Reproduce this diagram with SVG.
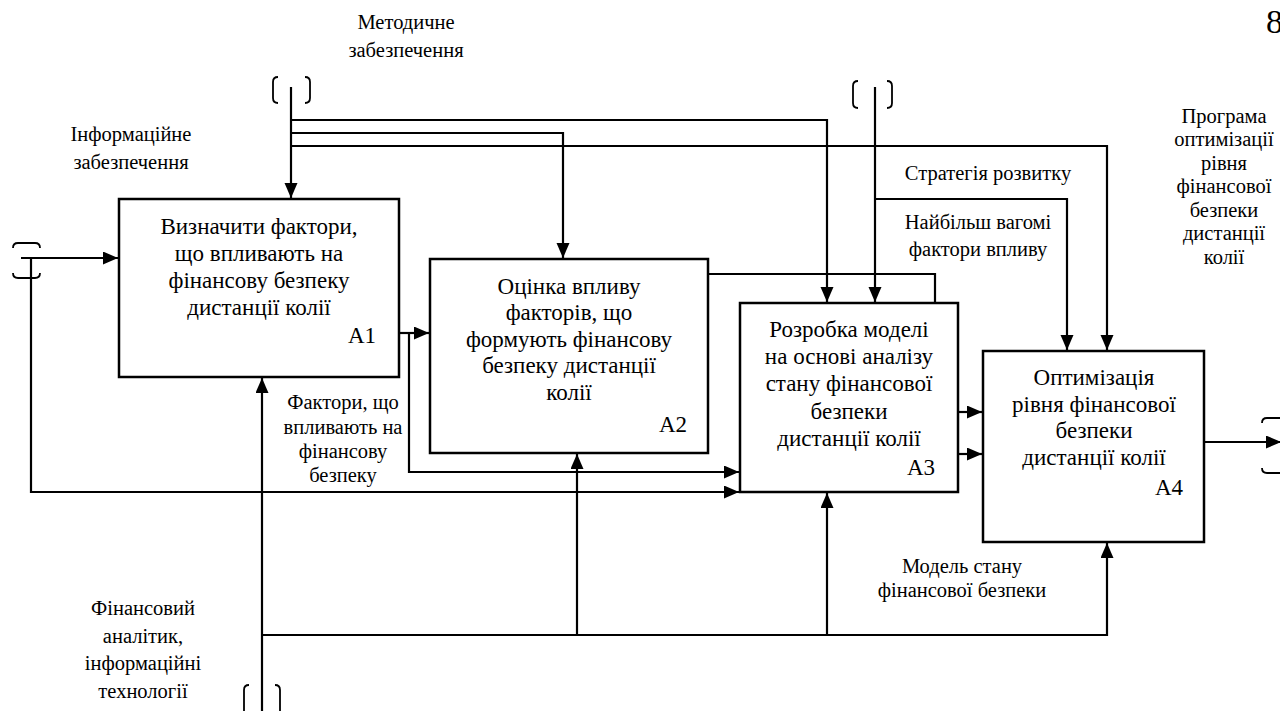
<svg xmlns="http://www.w3.org/2000/svg" width="1280" height="711" viewBox="0 0 1280 711">
<defs>
<style>
.box{fill:#fff;stroke:#000;stroke-width:2.5}
.ln{fill:none;stroke:#000;stroke-width:2.2}
.tn{fill:none;stroke:#000;stroke-width:1.8}
.bt{font-family:"Liberation Serif","Times New Roman",serif;font-size:23px;fill:#000;text-anchor:middle}
.id{font-family:"Liberation Serif","Times New Roman",serif;font-size:23px;fill:#000;text-anchor:end}
.lb{font-family:"Liberation Serif","Times New Roman",serif;font-size:20.5px;fill:#000;text-anchor:middle}
</style>
<marker id="ar" markerUnits="userSpaceOnUse" markerWidth="16" markerHeight="14" refX="15" refY="6.5" orient="auto">
<path d="M0,0 L15,6.5 L0,13 z" fill="#000"/>
</marker>
</defs>
<rect width="1280" height="711" fill="#fff"/>

<g id="connectors">
<path class="ln" d="M291 87 V198" marker-end="url(#ar)"/>
<path class="ln" d="M291 120 H827 V302" marker-end="url(#ar)"/>
<path class="ln" d="M291 133 H563 V258" marker-end="url(#ar)"/>
<path class="ln" d="M291 146 H1107 V350" marker-end="url(#ar)"/>
<path class="ln" d="M875 87 V302" marker-end="url(#ar)"/>
<path class="ln" d="M875 199 H1067 V350" marker-end="url(#ar)"/>
<path class="ln" d="M708 274 H935 V303"/>
<path class="ln" d="M21 258 H118" marker-end="url(#ar)"/>
<path class="ln" d="M31 258 V492 H739" marker-end="url(#ar)"/>
<path class="ln" d="M399 333 H429" marker-end="url(#ar)"/>
<path class="ln" d="M409 333 V472 H739" marker-end="url(#ar)"/>
<path class="ln" d="M958 412 H982" marker-end="url(#ar)"/>
<path class="ln" d="M958 454 H982" marker-end="url(#ar)"/>
<path class="ln" d="M1204 442 H1281" marker-end="url(#ar)"/>
<path class="ln" d="M262 711 V378" marker-end="url(#ar)"/>
<path class="ln" d="M262 635 H1107 V543" marker-end="url(#ar)"/>
<path class="ln" d="M577 635 V454" marker-end="url(#ar)"/>
<path class="ln" d="M827 635 V493" marker-end="url(#ar)"/>
<!-- tunnels -->
<path class="tn" d="M278 77 Q273 77 273 82 V98 Q273 103 278 103"/>
<path class="tn" d="M305 77 Q310 77 310 82 V98 Q310 103 305 103"/>
<path class="tn" d="M858 81 Q853 81 853 86 V103 Q853 108 858 108"/>
<path class="tn" d="M887 81 Q892 81 892 86 V103 Q892 108 887 108"/>
<path class="tn" d="M13 248 Q13 243 18 243 H35 Q40 243 40 248"/>
<path class="tn" d="M13 273 Q13 278 18 278 H35 Q40 278 40 273"/>
<path class="tn" d="M1262 423 Q1262 418 1267 418 H1281"/>
<path class="tn" d="M1262 468 Q1262 473 1267 473 H1281"/>
<path class="tn" d="M249 685 Q244 685 244 690 V711"/>
<path class="tn" d="M275 685 Q280 685 280 690 V711"/>
</g>

<g id="A1">
<rect class="box" x="119" y="199" width="280" height="178"/>
<text class="bt" x="259" y="234">Визначити фактори,</text>
<text class="bt" x="259" y="261">що впливають на</text>
<text class="bt" x="259" y="288">фінансову безпеку</text>
<text class="bt" x="259" y="315">дистанції колії</text>
<text class="id" x="376" y="343">A1</text>
</g>

<g id="A2">
<rect class="box" x="430" y="259" width="278" height="194"/>
<text class="bt" x="569" y="294">Оцінка впливу</text>
<text class="bt" x="569" y="320">факторів, що</text>
<text class="bt" x="569" y="347">формують фінансову</text>
<text class="bt" x="569" y="373">безпеку дистанції</text>
<text class="bt" x="569" y="400">колії</text>
<text class="id" x="687" y="432">A2</text>
</g>

<g id="A3">
<rect class="box" x="740" y="303" width="218" height="189"/>
<text class="bt" x="849" y="337">Розробка моделі</text>
<text class="bt" x="849" y="364">на основі аналізу</text>
<text class="bt" x="849" y="391">стану фінансової</text>
<text class="bt" x="849" y="419">безпеки</text>
<text class="bt" x="849" y="446">дистанції колії</text>
<text class="id" x="935" y="475">A3</text>
</g>

<g id="A4">
<rect class="box" x="983" y="351" width="221" height="191"/>
<text class="bt" x="1094" y="385">Оптимізація</text>
<text class="bt" x="1094" y="412">рівня фінансової</text>
<text class="bt" x="1094" y="438">безпеки</text>
<text class="bt" x="1094" y="465">дистанції колії</text>
<text class="id" x="1183" y="495">A4</text>
</g>

<g id="labels">
<text class="lb" x="406" y="29">Методичне</text>
<text class="lb" x="406" y="57">забезпечення</text>
<text class="lb" x="131" y="141">Інформаційне</text>
<text class="lb" x="131" y="169">забезпечення</text>
<text class="lb" x="988" y="180">Стратегія розвитку</text>
<text class="lb" x="978" y="229">Найбільш вагомі</text>
<text class="lb" x="978" y="256">фактори впливу</text>
<text class="lb" x="1224" y="123">Програма</text>
<text class="lb" x="1224" y="146">оптимізації</text>
<text class="lb" x="1224" y="170">рівня</text>
<text class="lb" x="1224" y="193">фінансової</text>
<text class="lb" x="1224" y="217">безпеки</text>
<text class="lb" x="1224" y="240">дистанції</text>
<text class="lb" x="1224" y="264">колії</text>
<text class="lb" x="343" y="409">Фактори, що</text>
<text class="lb" x="343" y="434">впливають на</text>
<text class="lb" x="343" y="458">фінансову</text>
<text class="lb" x="343" y="482">безпеку</text>
<text class="lb" x="143" y="615">Фінансовий</text>
<text class="lb" x="143" y="643">аналітик,</text>
<text class="lb" x="143" y="670">інформаційні</text>
<text class="lb" x="143" y="698">технології</text>
<text class="lb" x="962" y="573">Модель стану</text>
<text class="lb" x="962" y="597">фінансової безпеки</text>
<text x="1266" y="33" style="font-family:'Liberation Serif','Times New Roman',serif;font-size:34px">8</text>
</g>
</svg>
